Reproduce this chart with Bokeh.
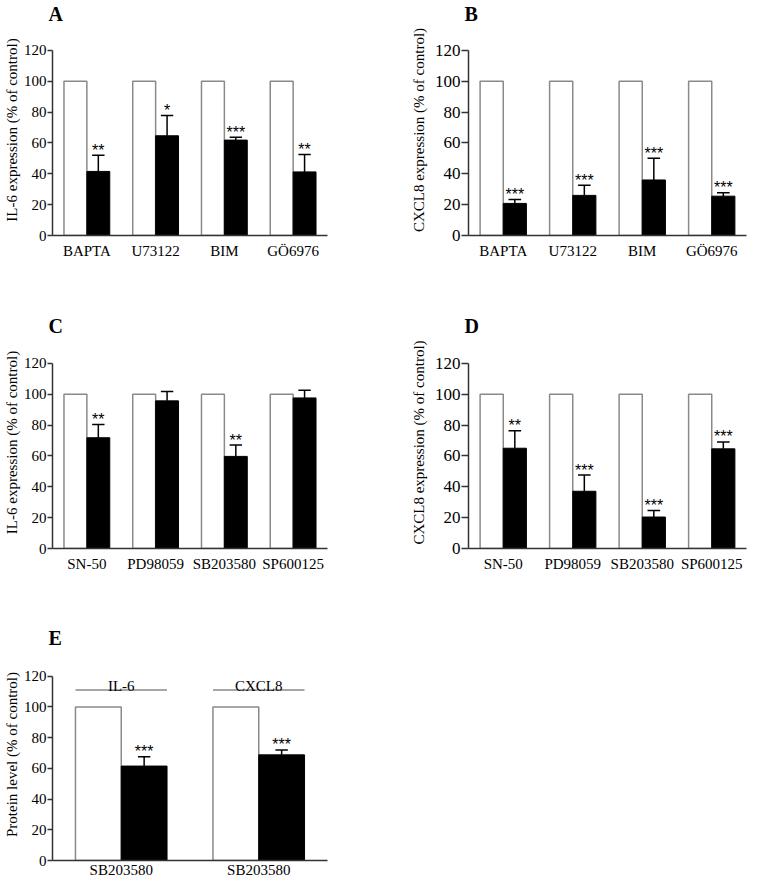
from bokeh.plotting import figure
from bokeh.layouts import column, row
from bokeh.models import Range1d, FixedTicker, Title
from bokeh.core.properties import value
from bokeh.embed import file_html
from bokeh.resources import INLINE

# ---------------- data ----------------
y_ticks = [0, 20, 40, 60, 80, 100, 120]

A_categories = ["BAPTA", "U73122", "BIM", "GÖ6976"]
A_control = [100, 100, 100, 100]
A_treated = [41.5, 64.6, 61.8, 41.2]
A_sem = [10.5, 13.1, 1.9, 11.2]
A_sig = ["**", "*", "***", "**"]

B_categories = ["BAPTA", "U73122", "BIM", "GÖ6976"]
B_control = [100, 100, 100, 100]
B_treated = [20.8, 26.0, 36.0, 25.5]
B_sem = [2.6, 6.6, 14.0, 2.2]
B_sig = ["***", "***", "***", "***"]

C_categories = ["SN-50", "PD98059", "SB203580", "SP600125"]
C_control = [100, 100, 100, 100]
C_treated = [71.8, 95.7, 59.7, 97.6]
C_sem = [8.6, 6.0, 7.4, 5.0]
C_sig = ["**", "", "**", ""]

D_categories = ["SN-50", "PD98059", "SB203580", "SP600125"]
D_control = [100, 100, 100, 100]
D_treated = [65.0, 37.1, 20.4, 64.6]
D_sem = [11.4, 10.5, 4.3, 4.5]
D_sig = ["**", "***", "***", "***"]

E_categories = ["SB203580", "SB203580"]
E_groups = ["IL-6", "CXCL8"]
E_control = [100, 100]
E_treated = [61.5, 68.8]
E_sem = [6.0, 3.2]
E_sig = ["***", "***"]
E_bracket_y = 111

SERIF = "Liberation Serif"
SANS = "Liberation Sans"
BAR_EDGE = "#8a8a8a"
AXIS = "#333333"
FRAME_TOP = 23     # px reserved above the frame for the panel letter


def panel(letter, cats, control, treated, sem, sig, ylabel,
          width, height, left, top120, fw, fh, tick_out, ylab_standoff,
          ytick_size, xstand, headers=None):
    """top120: px from figure top to the 120 line; fh: px for 0..120."""
    n = len(cats)
    ppx = fw / n
    ppy = fh / 120.0
    y_end = 120 + (top120 - FRAME_TOP) / ppy
    title = Title(text=letter, align="left", offset=-4, standoff=0,
                  text_font=SERIF, text_font_style="bold",
                  text_font_size="20px", text_color="black")
    p = figure(width=width, height=height, x_range=Range1d(0, n),
               y_range=Range1d(0, y_end), output_backend="svg",
               toolbar_location=None, title=title, min_border_left=left,
               min_border_top=FRAME_TOP, min_border_right=width - left - fw,
               min_border_bottom=height - top120 - fh)
    p.outline_line_color = None
    p.grid.visible = False

    bw = 0.333
    centers = [i + 0.5 for i in range(n)]
    xw = [c - bw / 2 for c in centers]
    xb = [c + bw / 2 for c in centers]
    tops = [t + e for t, e in zip(treated, sem)]

    p.vbar(x=xw, top=control, bottom=0, width=bw, fill_color="white",
           line_color=BAR_EDGE, line_width=1.5)
    p.vbar(x=xb, top=treated, bottom=0, width=bw, fill_color="black",
           line_color="black", line_width=1)
    cap = 6.3 / ppx
    p.segment(x0=xb, y0=treated, x1=xb, y1=tops, line_color="black",
              line_width=1.5)
    p.segment(x0=[x - cap for x in xb], y0=tops, x1=[x + cap for x in xb],
              y1=tops, line_color="black", line_width=1.5)
    p.text(x=xb, y=[t + 5.0 / ppy for t in tops], text=sig,
           text_align="center", text_baseline="alphabetic",
           text_font=value(SANS), text_font_size="16px", text_color="black")

    if headers is not None:
        x0 = [c - bw for c in centers]
        x1 = [c + bw for c in centers]
        p.segment(x0=x0, y0=[E_bracket_y] * n, x1=x1, y1=[E_bracket_y] * n,
                  line_color=BAR_EDGE, line_width=1.5)
        p.text(x=centers, y=[E_bracket_y + 4.0 / ppy] * n, text=headers,
               text_align="center", text_baseline="alphabetic",
               text_font=value(SERIF), text_font_size="15px",
               text_color="black")

    p.xaxis.ticker = FixedTicker(ticks=centers)
    p.xaxis.major_label_overrides = {c: lab for c, lab in zip(centers, cats)}
    p.xaxis.major_tick_out = 0
    p.xaxis.major_tick_in = 0
    p.xaxis.minor_tick_out = 0
    p.xaxis.minor_tick_in = 0
    p.xaxis.major_label_standoff = xstand
    p.yaxis.ticker = FixedTicker(ticks=y_ticks)
    p.yaxis.bounds = (0, 120)
    p.yaxis.major_tick_out = tick_out
    p.yaxis.major_tick_in = 0
    p.yaxis.minor_tick_out = 0
    p.yaxis.minor_tick_in = 0
    p.yaxis.major_label_standoff = 1
    p.yaxis.axis_label = ylabel
    p.yaxis.axis_label_standoff = ylab_standoff
    for ax in (p.xaxis, p.yaxis):
        ax.axis_line_color = AXIS
        ax.axis_line_width = 1.5
        ax.major_tick_line_color = AXIS
        ax.major_tick_line_width = 1.5
        ax.major_label_text_font = SERIF
        ax.major_label_text_font_size = "15px"
        ax.major_label_text_color = "black"
        ax.axis_label_text_font = SERIF
        ax.axis_label_text_font_size = "15px"
        ax.axis_label_text_font_style = "normal"
        ax.axis_label_text_color = "black"
    p.yaxis.major_label_text_font_size = ytick_size
    return p


pA = panel("A", A_categories, A_control, A_treated, A_sem, A_sig,
           "IL-6 expression (% of control)", 372, 312, 47, 49, 280, 187,
           5, 1, "15px", 7)
pB = panel("B", B_categories, B_control, B_treated, B_sem, B_sig,
           "CXCL8 expression (% of control)", 375, 312, 96, 49, 278, 186,
           7, 5, "17px", 7)
pC = panel("C", C_categories, C_control, C_treated, C_sem, C_sig,
           "IL-6 expression (% of control)", 372, 312, 47, 50, 280, 186,
           5, 1, "15px", 7)
pD = panel("D", D_categories, D_control, D_treated, D_sem, D_sig,
           "CXCL8 expression (% of control)", 375, 312, 96, 50, 278, 186,
           7, 5, "17px", 7)
pE = panel("E", E_categories, E_control, E_treated, E_sem, E_sig,
           "Protein level (% of control)", 372, 256, 47, 51, 280, 186,
           5, 1, "15px", 1, headers=E_groups)

layout = column(row(pA, pB), row(pC, pD), pE)
open("out.html", "w").write(file_html(layout, INLINE))
